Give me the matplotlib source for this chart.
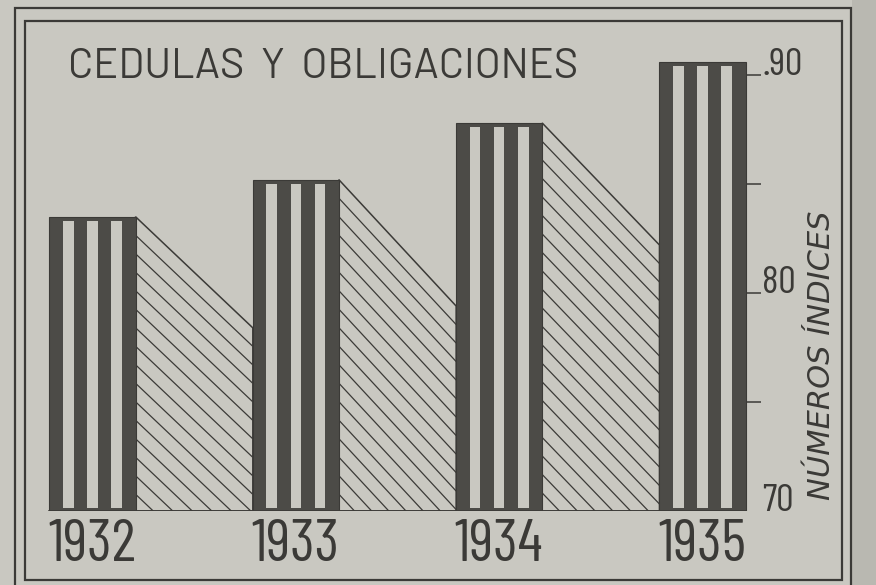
import matplotlib
matplotlib.use("Agg")
import matplotlib.pyplot as plt
from matplotlib.patches import Polygon, Rectangle
from matplotlib.collections import LineCollection

# ---- data -------------------------------------------------------------
years = ["1932", "1933", "1934", "1935"]
indices = [83.5, 85.2, 87.8, 90.6]
# level where each hatched band meets the next bar
band_end = [78.4, 79.4, 82.2]
ytick_values = [70, 75, 80, 85, 90]
ytick_labels = ["70", "", "80", "", ".90"]
title = "CEDULAS  Y  OBLIGACIONES"
ylabel = "NÚMEROS ÍNDICES"

# ---- style ------------------------------------------------------------
BASE = 70
PAPER = "#c9c8c1"
MARGIN = "#b9b8b1"
INK = "#3b3a37"
DARK = "#4c4b47"
NARROW = ["Barlow Condensed", "DejaVu Sans"]
WIDE = ["Barlow", "DejaVu Sans"]
FW, FH = 876, 585

fig = plt.figure(figsize=(FW / 100, FH / 100), dpi=100, facecolor=PAPER)


def fx(x):
    return x / FW


def fy(y):
    return 1 - y / FH


# darker strip beyond the outer frame
fig.add_artist(Rectangle((fx(852), 0), 1 - fx(852), 1, transform=fig.transFigure,
                         facecolor=MARGIN, edgecolor="none", zorder=0))
# double frame
fig.add_artist(Rectangle((fx(15), fy(600)), fx(851) - fx(15), fy(8) - fy(600),
                         transform=fig.transFigure, fill=False, edgecolor=INK, lw=1.6, zorder=5))
fig.add_artist(Rectangle((fx(25), fy(580)), fx(842) - fx(25), fy(21) - fy(580),
                         transform=fig.transFigure, fill=False, edgecolor=INK, lw=1.6, zorder=5))

ax = fig.add_axes([fx(31.5), fy(511), (824.5 - 31.5) / FW, (511 - 31.4) / FH])
ax.set_xlim(-0.3, 3.6)
ax.set_ylim(BASE, 92)
ax.patch.set_visible(False)
for side in ("top", "left", "bottom"):
    ax.spines[side].set_visible(False)

x = list(range(len(years)))
w = 0.423
d = w * 1.3 / 8.2      # dark stripe width
l = w / 8.2            # light stripe width
inset_top = 4 / 21.8
inset_bot = 3 / 21.8

# striped bars: dark body with three light stripes
heights = [v - BASE for v in indices]
ax.bar(x, heights, bottom=BASE, width=w, color=DARK, edgecolor=INK, lw=0.8, zorder=3)
for k in range(3):
    off = -w / 2 + d + l / 2 + k * (d + l)
    ax.bar([xi + off for xi in x], [h - inset_top - inset_bot for h in heights],
           bottom=BASE + inset_bot, width=l, color=PAPER, lw=0, zorder=4)

# hatched bands joining consecutive bars
dy = 18.5 / 21.8
for i in range(len(years) - 1):
    xr = x[i] + w / 2
    xl = x[i + 1] - w / 2
    top = indices[i]
    end = band_end[i]
    poly = Polygon([(xr, top), (xl, end), (xl, BASE), (xr, BASE)], closed=True,
                   facecolor="none", edgecolor=INK, lw=1.1, zorder=2)
    ax.add_patch(poly)
    segs = []
    k = 1
    while top - k * dy > BASE - (top - end):
        segs.append([(xr, top - k * dy), (xl, end - k * dy)])
        k += 1
    lc = LineCollection(segs, colors=INK, linewidths=0.9, zorder=2)
    ax.add_collection(lc)
    lc.set_clip_path(poly)

# baseline under bars and bands
ax.plot([x[0] - w / 2, x[-1] + w / 2], [BASE, BASE], color=INK, lw=1.2, zorder=5)

# index scale to the right of the last bar
ax.spines["right"].set_position(("data", x[-1] + w / 2))
ax.spines["right"].set_visible(False)
ax.yaxis.tick_right()
ax.set_yticks(ytick_values, ytick_labels)
ax.tick_params(axis="y", direction="out", length=11, width=1.1, color=INK,
               pad=1, labelcolor=INK)
ax.yaxis.get_major_ticks()[0].tick2line.set_visible(False)
for lbl in ax.get_yticklabels():
    lbl.set_va("baseline")
    lbl.set_family(NARROW)
    lbl.set_fontsize(28)

ax.set_xticks(x, years)
ax.tick_params(axis="x", length=0, pad=36, labelcolor=INK)
for lbl in ax.get_xticklabels():
    lbl.set_va("baseline")
    lbl.set_family(NARROW)
    lbl.set_fontsize(43)

fig.text(fx(68), fy(78), title, ha="left", va="baseline", fontsize=30,
         family=WIDE, color=INK)
fig.text(fx(822), fy(355), ylabel, rotation=90, ha="center", va="center",
         fontsize=22, style="italic", family=["DejaVu Sans"], color=INK)

fig.savefig("out.png", dpi=100, facecolor=PAPER)
